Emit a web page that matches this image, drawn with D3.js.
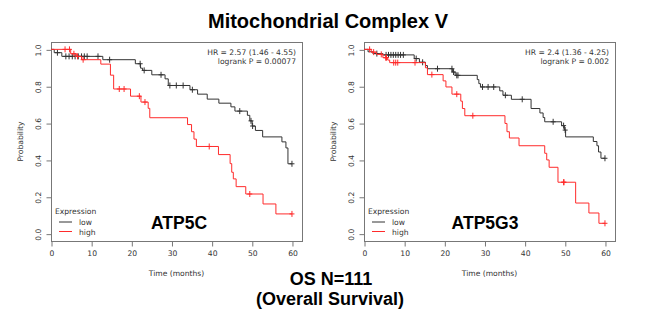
<!DOCTYPE html>
<html>
<head>
<meta charset="utf-8">
<script src="https://cdn.jsdelivr.net/npm/d3@7"></script>
<style>
  body { margin: 0; background: #fff; }
  svg { display: block; }
</style>
</head>
<body>
<div id="chart"></div>
<script>
// ATP5C, low expression
const atp5cLowTime = [0, 0.8, 2.7, 12.9, 21.0, 22.3, 22.8, 25.1, 28.4, 29.2, 34.6, 36.5, 38.9, 41.8, 44.8, 45.8, 48.9, 49.5, 50.1, 50.9, 52.7, 57.5, 58.5, 59.0];
const atp5cLowSurv = [1, 0.982, 0.962, 0.944, 0.922, 0.898, 0.886, 0.862, 0.84, 0.804, 0.781, 0.757, 0.73, 0.708, 0.688, 0.665, 0.642, 0.612, 0.584, 0.56, 0.525, 0.498, 0.465, 0.379];
const atp5cLowCens = [1.6, 3.7, 4.5, 5.3, 6.0, 6.8, 7.6, 8.3, 9.0, 11.7, 14.6, 22.2, 23.2, 27.4, 29.6, 31.2, 32.9, 35.2, 47.0, 49.8, 50.2, 60];

// ATP5C, high expression
const atp5cHighTime = [0, 4.9, 6.4, 7.6, 12.4, 14.8, 15.6, 19.8, 22.4, 24.2, 24.6, 34.0, 35.0, 35.6, 36.2, 41.7, 44.6, 45.0, 45.4, 46.1, 48.5, 52.8, 56.0];
const atp5cHighSurv = [1, 0.976, 0.962, 0.944, 0.92, 0.86, 0.785, 0.746, 0.714, 0.68, 0.629, 0.592, 0.553, 0.513, 0.473, 0.429, 0.38, 0.333, 0.297, 0.255, 0.215, 0.161, 0.107];
const atp5cHighCens = [3.5, 4.6, 5.7, 6.6, 8.0, 17.0, 18.2, 22.0, 23.4, 39.4, 49.5, 60];

// ATP5G3, low expression
const atp5g3LowTime = [0, 1.0, 2.2, 4.7, 12.5, 13.8, 15.3, 15.8, 22.0, 22.7, 28.2, 28.6, 29.0, 33.8, 34.6, 36.7, 41.6, 43.8, 44.6, 45.0, 49.2, 49.9, 50.2, 57.1, 58.0, 58.4, 59.0];
const atp5g3LowSurv = [1, 0.987, 0.977, 0.97, 0.95, 0.93, 0.912, 0.895, 0.877, 0.859, 0.836, 0.814, 0.796, 0.775, 0.751, 0.729, 0.679, 0.655, 0.63, 0.607, 0.586, 0.562, 0.525, 0.5, 0.477, 0.443, 0.409];
const atp5g3LowCens = [3.2, 5.5, 6.1, 6.7, 7.3, 7.9, 8.5, 9.1, 9.8, 13.0, 14.6, 18.3, 21.9, 22.3, 23.1, 23.4, 29.5, 30.9, 32.3, 35.2, 39.4, 47.1, 49.7, 50.1, 60];

// ATP5G3, high expression
const atp5g3HighTime = [0, 1.8, 3.1, 4.7, 5.9, 6.4, 15.3, 15.8, 19.7, 20.4, 21.9, 24.1, 24.5, 25.1, 35.1, 35.6, 36.2, 38.6, 45.0, 45.5, 46.1, 48.3, 52.7, 56.0, 58.5];
const atp5g3HighSurv = [1, 0.985, 0.973, 0.955, 0.942, 0.928, 0.9, 0.863, 0.829, 0.796, 0.757, 0.719, 0.679, 0.64, 0.598, 0.553, 0.519, 0.477, 0.436, 0.4, 0.36, 0.279, 0.166, 0.112, 0.056];
const atp5g3HighCens = [1.4, 2.4, 4.3, 5.4, 5.6, 7.4, 7.9, 8.4, 12.7, 16.9, 23.1, 27.1, 49.7, 49.8, 60];

const xTicks = [0, 10, 20, 30, 40, 50, 60];
const yTicks = [0, 0.2, 0.4, 0.6, 0.8, 1.0];
const groupLabels = ['low', 'high'];
const groupColors = ['#333', '#ff2b2b'];

const panels = [
    {
        gene: 'ATP5C', hr: 'HR = 2.57 (1.46 - 4.55)', p: 'logrank P = 0.00077',
        left: 51, geneX: 128,
        series: [
            { time: atp5cLowTime, surv: atp5cLowSurv, cens: atp5cLowCens },
            { time: atp5cHighTime, surv: atp5cHighSurv, cens: atp5cHighCens }
        ]
    },
    {
        gene: 'ATP5G3', hr: 'HR = 2.4 (1.36 - 4.25)', p: 'logrank P = 0.002',
        left: 364, geneX: 121,
        series: [
            { time: atp5g3LowTime, surv: atp5g3LowSurv, cens: atp5g3LowCens },
            { time: atp5g3HighTime, surv: atp5g3HighSurv, cens: atp5g3HighCens }
        ]
    }
];

const width = 650, height = 321;
const boxW = 251, boxTop = 42, boxBottom = 241;
const smallFont = 'DejaVu Sans, sans-serif';
const boldFont = 'Liberation Sans, Arial, Helvetica, sans-serif';

const svg = d3.select('#chart').append('svg')
    .attr('width', width)
    .attr('height', height);

svg.append('text')
    .attr('x', 328).attr('y', 28)
    .attr('text-anchor', 'middle')
    .attr('font-family', boldFont).attr('font-weight', 'bold').attr('font-size', '20px')
    .text('Mitochondrial Complex V');

svg.append('text')
    .attr('x', 331).attr('y', 285)
    .attr('text-anchor', 'middle')
    .attr('font-family', boldFont).attr('font-weight', 'bold').attr('font-size', '18px')
    .text('OS N=111');

svg.append('text')
    .attr('x', 330).attr('y', 305)
    .attr('text-anchor', 'middle')
    .attr('font-family', boldFont).attr('font-weight', 'bold').attr('font-size', '18px')
    .text('(Overall Survival)');

panels.forEach(panel => {
    const x = d3.scaleLinear().domain([0, 62.5]).range([panel.left, panel.left + boxW]);
    const y = d3.scaleLinear().domain([-0.04, 1.04]).range([boxBottom, boxTop]);
    const g = svg.append('g');

    // box
    g.append('rect')
        .attr('x', panel.left + 0.5).attr('y', boxTop + 0.5)
        .attr('width', boxW).attr('height', boxBottom - boxTop)
        .attr('fill', 'none').attr('stroke', '#777').attr('stroke-width', 1);

    // axes
    const xAxis = g.append('g')
        .attr('transform', `translate(0.5,${boxBottom + 0.5})`)
        .call(d3.axisBottom(x).tickValues(xTicks).tickSize(5).tickPadding(4));
    const yAxis = g.append('g')
        .attr('transform', `translate(${panel.left + 0.5},0.5)`)
        .call(d3.axisLeft(y).tickValues(yTicks).tickSize(5).tickFormat(d3.format('.1f')));

    [xAxis, yAxis].forEach(a => {
        a.select('.domain').remove();
        a.selectAll('line').attr('stroke', '#777');
        a.selectAll('text')
            .attr('font-family', smallFont).attr('font-size', '7.6px').attr('fill', '#333');
    });
    yAxis.selectAll('text')
        .attr('x', null).attr('dy', null)
        .attr('text-anchor', 'middle')
        .attr('transform', 'translate(-11,0) rotate(-90)');

    g.append('text')
        .attr('x', (panel.left + panel.left + boxW) / 2).attr('y', 276)
        .attr('text-anchor', 'middle')
        .attr('font-family', smallFont).attr('font-size', '7.6px').attr('fill', '#333')
        .text('Time (months)');

    g.append('text')
        .attr('transform', `translate(${panel.left - 28},${(boxTop + boxBottom) / 2}) rotate(-90)`)
        .attr('text-anchor', 'middle')
        .attr('font-family', smallFont).attr('font-size', '7.6px').attr('fill', '#333')
        .text('Probability');

    // survival curves
    const line = d3.line()
        .x(d => x(d[0]))
        .y(d => y(d[1]))
        .curve(d3.curveStepAfter);

    panel.series.forEach((s, i) => {
        const pts = s.time.map((t, k) => [t, s.surv[k]]);
        pts.push([d3.max(s.cens), s.surv[s.surv.length - 1]]);
        g.append('path')
            .attr('d', line(pts))
            .attr('fill', 'none')
            .attr('stroke', groupColors[i])
            .attr('stroke-width', 1);

        const survAt = t => s.surv[d3.bisectRight(s.time, t) - 1];
        g.selectAll(null)
            .data(s.cens)
            .enter()
            .append('path')
            .attr('d', t => {
                const cx = x(t), cy = y(survAt(t));
                return `M${cx - 2.5},${cy}H${cx + 2.5}M${cx},${cy - 3}V${cy + 3}`;
            })
            .attr('stroke', groupColors[i])
            .attr('stroke-width', 1);
    });

    // stats
    g.append('text')
        .attr('x', panel.left + boxW - 6).attr('y', 55)
        .attr('text-anchor', 'end')
        .attr('font-family', smallFont).attr('font-size', '7.6px').attr('fill', '#333')
        .text(panel.hr);
    g.append('text')
        .attr('x', panel.left + boxW - 6).attr('y', 64)
        .attr('text-anchor', 'end')
        .attr('font-family', smallFont).attr('font-size', '7.6px').attr('fill', '#333')
        .text(panel.p);

    // legend
    g.append('text')
        .attr('x', panel.left + 4).attr('y', 214)
        .attr('font-family', smallFont).attr('font-size', '7.6px').attr('fill', '#333')
        .text('Expression');
    groupLabels.forEach((lab, i) => {
        const ly = 222 + i * 9.5;
        g.append('line')
            .attr('x1', panel.left + 8).attr('x2', panel.left + 21)
            .attr('y1', ly).attr('y2', ly)
            .attr('stroke', groupColors[i]).attr('stroke-width', 1);
        g.append('text')
            .attr('x', panel.left + 28).attr('y', ly + 3)
            .attr('font-family', smallFont).attr('font-size', '7.6px').attr('fill', '#333')
            .text(lab);
    });

    g.append('text')
        .attr('x', panel.left + panel.geneX).attr('y', 229)
        .attr('text-anchor', 'middle')
        .attr('font-family', boldFont).attr('font-weight', 'bold').attr('font-size', '17.5px')
        .text(panel.gene);
});
</script>
</body>
</html>
